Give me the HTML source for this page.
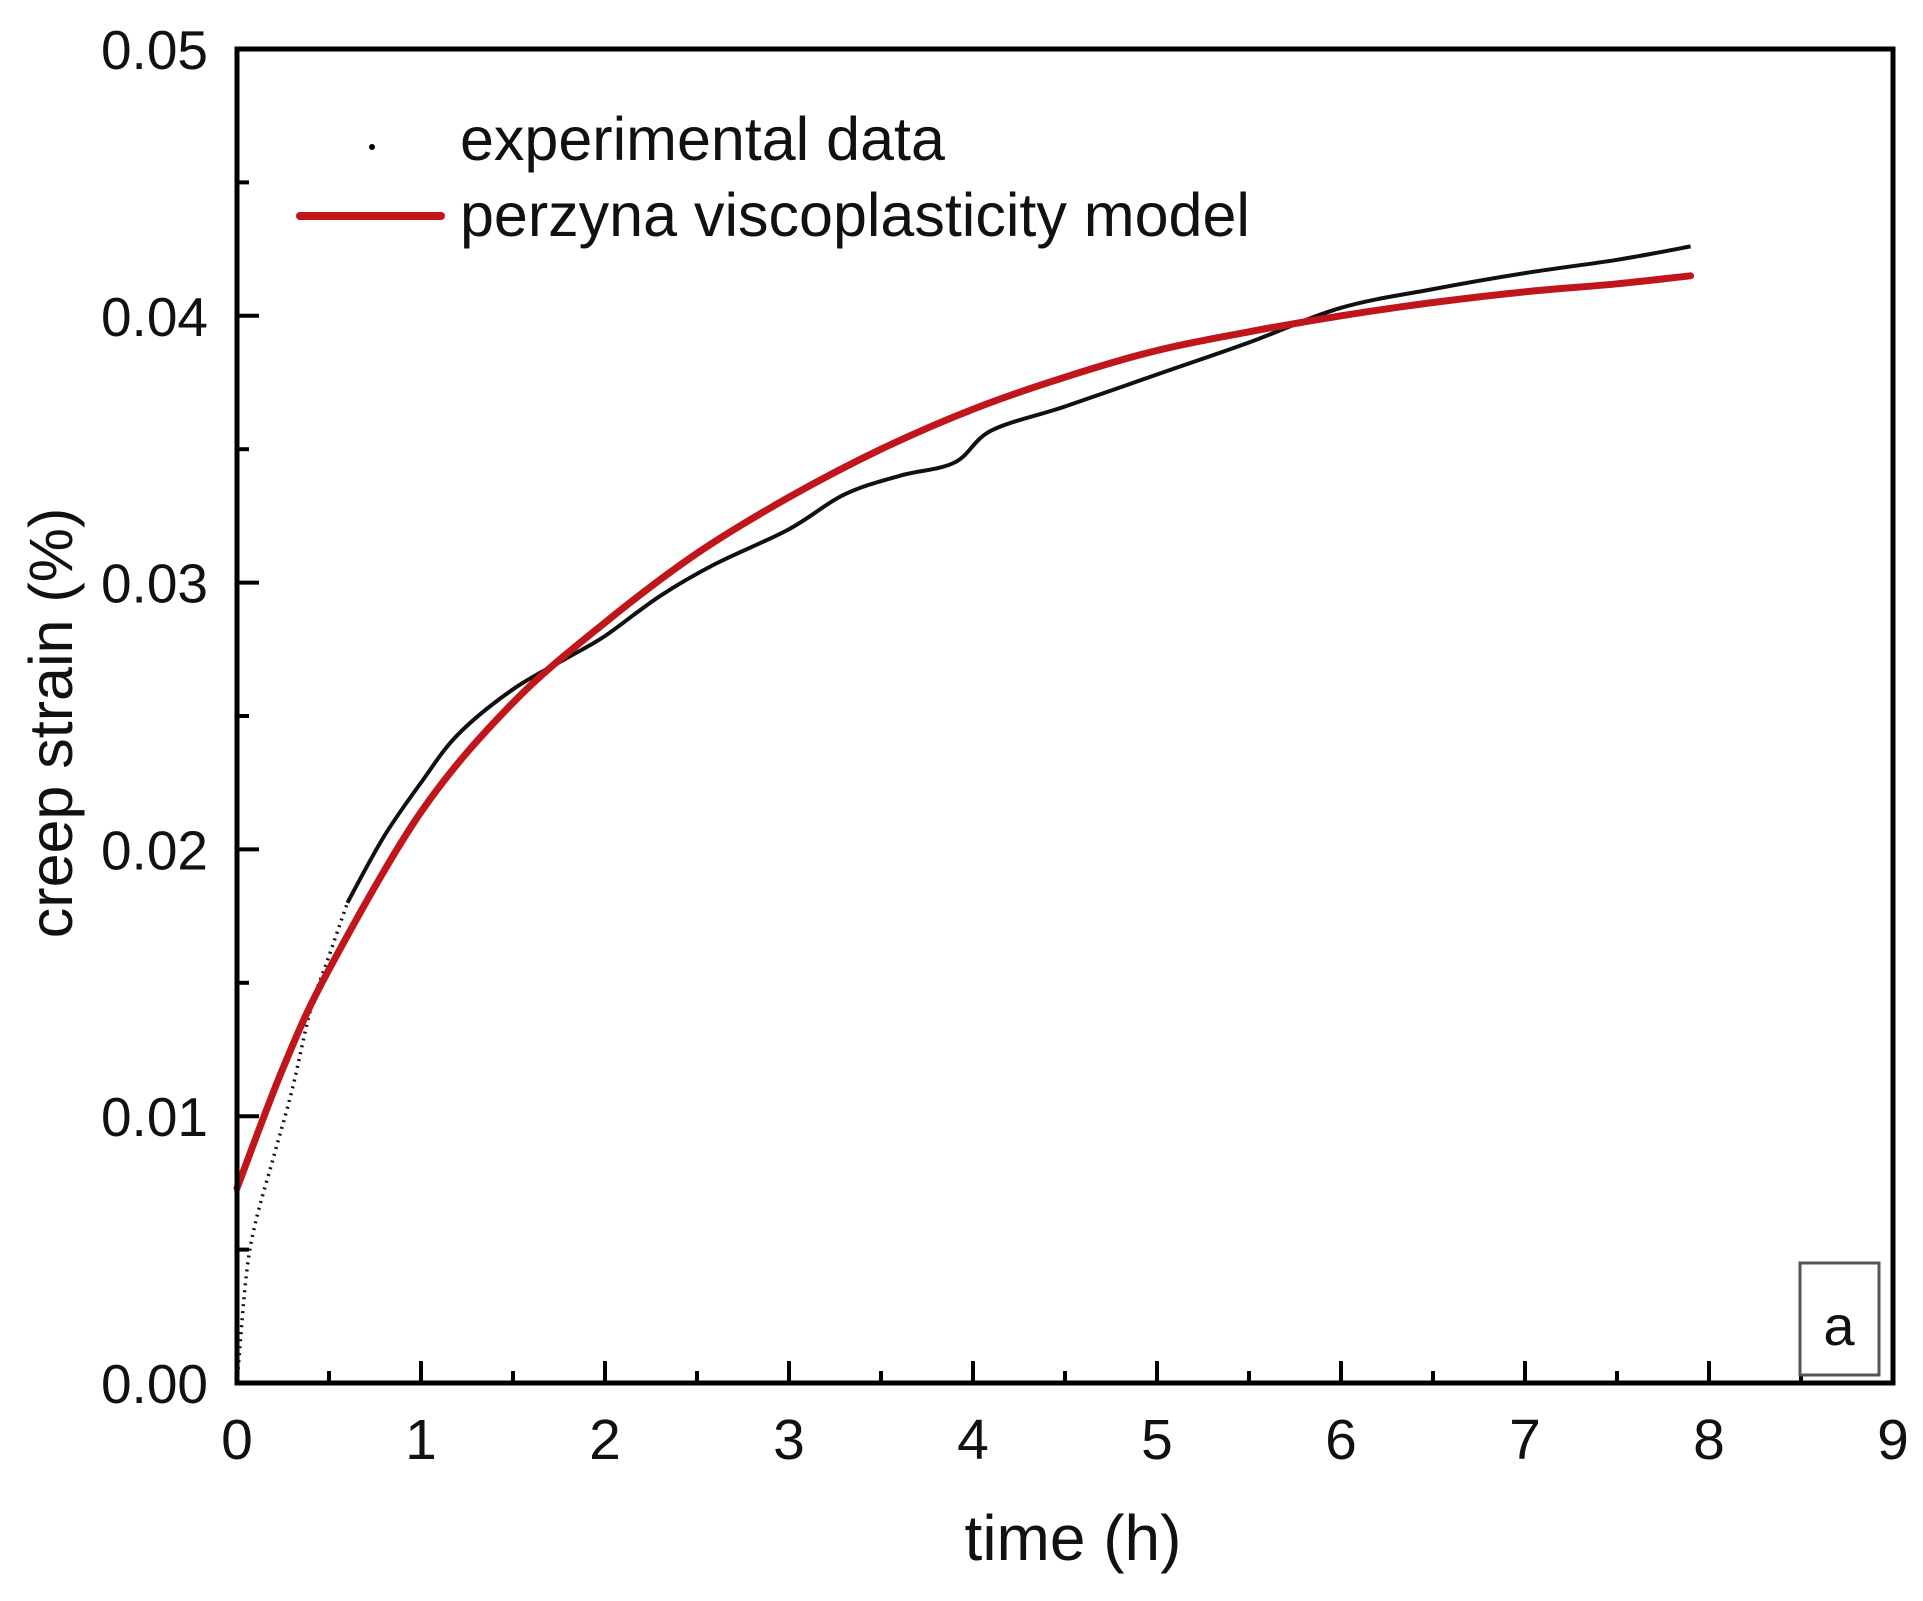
<!DOCTYPE html>
<html><head><meta charset="utf-8"><style>
html,body{margin:0;padding:0;background:#fff;}
svg{display:block;font-family:"Liberation Sans",Arial,sans-serif;}
</style></head><body>
<svg id="chart" width="1923" height="1601" viewBox="0 0 1923 1601" xmlns="http://www.w3.org/2000/svg">
<g id="marks"></g>
<rect x="237" y="49" width="1656" height="1334" fill="none" stroke="#000" stroke-width="5"/>
<g id="ticks"></g>
<text transform="translate(72,723) rotate(-90)" text-anchor="middle" font-size="61" fill="#111">creep strain (%)</text>
<text x="1073" y="1560" text-anchor="middle" font-size="64" fill="#111">time (h)</text>
<g>
<circle cx="372" cy="147" r="3" fill="#000"/>
<text x="460" y="160" font-size="61" fill="#111">experimental data</text>
<line x1="300" y1="216" x2="441" y2="216" stroke="#c0161b" stroke-width="8" stroke-linecap="round"/>
<text x="460" y="236" font-size="61" fill="#111">perzyna viscoplasticity model</text>
</g>
<g>
<rect x="1800" y="1263" width="79" height="112" fill="#fff" stroke="#555" stroke-width="3"/>
<text x="1839" y="1345" text-anchor="middle" font-size="56" fill="#111">a</text>
</g>
</svg>
<script>
const xTicks = [0,1,2,3,4,5,6,7,8,9];
const yTicks = [0.00,0.01,0.02,0.03,0.04,0.05];
const yTickLabels = ["0.00","0.01","0.02","0.03","0.04","0.05"];
const modelT = [0,0.25,0.5,1,1.5,2,2.5,3,3.5,4,4.5,5,5.5,6,6.5,7,7.5,7.9];
const modelStrain = [0.0073,0.0118,0.0155,0.0214,0.0255,0.0285,0.0311,0.0332,0.0350,0.0365,0.0377,0.0387,0.0394,0.0400,0.0405,0.0409,0.0412,0.0415];
const expT = [0,0.05,0.1,0.2,0.3,0.4,0.5,0.6,0.8,1,1.2,1.5,1.8,2,2.3,2.6,3,3.3,3.6,3.9,4.1,4.5,5,5.5,6,6.5,7,7.5,7.9];
const expStrain = [0.0,0.004,0.006,0.0085,0.011,0.014,0.016,0.018,0.0205,0.0225,0.0243,0.026,0.0272,0.028,0.0295,0.0307,0.032,0.0333,0.034,0.0345,0.0357,0.0366,0.0378,0.039,0.0403,0.041,0.0416,0.0421,0.0426];
const X0=237,X1=1893,Y0=1383,Y1=49;
const sx=t=>X0+(t-0)/(9-0)*(X1-X0);
const sy=v=>Y0-(v-0)/(0.05-0)*(Y0-Y1);
const NS="http://www.w3.org/2000/svg";
const marks=document.getElementById('marks');
const ticks=document.getElementById('ticks');
function mk(tag,attrs,parent){const e=document.createElementNS(NS,tag);for(const k in attrs)e.setAttribute(k,attrs[k]);parent.appendChild(e);return e;}
function smooth(pts){let d='M'+pts[0][0].toFixed(1)+','+pts[0][1].toFixed(1);
  for(let i=0;i<pts.length-1;i++){const p0=pts[i-1]||pts[i],p1=pts[i],p2=pts[i+1],p3=pts[i+2]||p2;
    const c1=[p1[0]+(p2[0]-p0[0])/6,p1[1]+(p2[1]-p0[1])/6],c2=[p2[0]-(p3[0]-p1[0])/6,p2[1]-(p3[1]-p1[1])/6];
    d+=' C'+c1.map(v=>v.toFixed(1)).join(',')+' '+c2.map(v=>v.toFixed(1)).join(',')+' '+p2[0].toFixed(1)+','+p2[1].toFixed(1);}
  return d;}
const early=[],late=[];
expT.forEach((t,i)=>{const p=[sx(t),sy(expStrain[i])];if(t<=0.6)early.push(p);if(t>=0.6)late.push(p);});
const e1=mk('path',{d:smooth(early),fill:'none',stroke:'#111','stroke-width':3.5,'stroke-dasharray':'2 5'},marks);


const e2=mk('path',{d:smooth(late),fill:'none',stroke:'#111','stroke-width':4,'stroke-linejoin':'round'},marks);


const mpts=modelT.map((t,i)=>[sx(t),sy(modelStrain[i])]);
const m=mk('path',{d:smooth(mpts),fill:'none',stroke:'#c0161b','stroke-width':7,'stroke-linejoin':'round','stroke-linecap':'round'},marks);


xTicks.forEach((t,i)=>{
  const x=sx(t);
  const l=mk('line',{x1:x,y1:Y0,x2:x,y2:Y0-22,stroke:'#000','stroke-width':4},ticks);
  
  
  if(i<xTicks.length-1){const mx=sx(t+0.5);const ml=mk('line',{x1:mx,y1:Y0,x2:mx,y2:Y0-12,stroke:'#000','stroke-width':4},ticks);
  
  }
  const tx=mk('text',{x:x,y:1459,'text-anchor':'middle','font-size':57,fill:'#111'},ticks);
  tx.textContent=String(t);
  
  
});
yTicks.forEach((v,i)=>{
  const y=sy(v);
  const l=mk('line',{x1:X0,y1:y,x2:X0+22,y2:y,stroke:'#000','stroke-width':4},ticks);
  
  
  if(i<yTicks.length-1){const my=sy(v+0.005);const ml=mk('line',{x1:X0,y1:my,x2:X0+12,y2:my,stroke:'#000','stroke-width':4},ticks);
  
  }
  const tx=mk('text',{x:208,y:y+20,'text-anchor':'end','font-size':55,fill:'#111'},ticks);
  tx.textContent=yTickLabels[i];
  
  
});
</script>
</body></html>
